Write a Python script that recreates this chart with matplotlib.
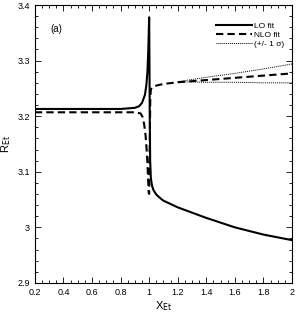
import matplotlib
matplotlib.use("Agg")
import matplotlib.pyplot as plt
from matplotlib.ticker import MultipleLocator, FixedLocator

# ==========================================================
# DATA
# ==========================================================

lo_x = [0.2, 0.4, 0.6, 0.8, 0.85, 0.9, 0.93, 0.95, 0.97, 0.98,
        0.988, 0.994, 0.998, 1.0, 1.002, 1.004, 1.007, 1.012, 1.02,
        1.03, 1.05, 1.08, 1.1, 1.2, 1.4, 1.6, 1.8, 2.0]
lo_y = [3.213, 3.213, 3.213, 3.213, 3.214, 3.215, 3.218, 3.224, 3.238, 3.255,
        3.28, 3.32, 3.36, 3.378, 3.30, 3.20, 3.12, 3.088, 3.075,
        3.067, 3.059, 3.052, 3.048, 3.036, 3.017, 3.0, 2.987, 2.977]

nlo_x = [0.2, 0.6, 0.9, 0.94, 0.955, 0.965, 0.975, 0.985, 0.992, 0.997,
         1.0, 1.004, 1.008, 1.012, 1.02, 1.05, 1.1, 1.2, 1.4, 1.6, 1.8, 2.0]
nlo_y = [3.207, 3.207, 3.207, 3.205, 3.198, 3.185, 3.165, 3.13, 3.09, 3.062,
         3.06, 3.15, 3.235, 3.248, 3.252, 3.255, 3.258, 3.261, 3.265, 3.269, 3.273, 3.277]

up_x = [1.2, 1.4, 1.6, 1.8, 2.0]
up_y = [3.262, 3.270, 3.277, 3.285, 3.294]

low_x = [1.2, 1.4, 1.6, 1.8, 2.0]
low_y = [3.262, 3.261, 3.261, 3.260, 3.260]

x_ticks = [0.2, 0.4, 0.6, 0.8, 1.0, 1.2, 1.4, 1.6, 1.8, 2.0]
x_labels = ["0.2", "0.4", "0.6", "0.8", "1", "1.2", "1.4", "1.6", "1.8", "2"]
y_ticks = [2.9, 3.0, 3.1, 3.2, 3.3, 3.4]
y_labels = ["2.9", "3", "3.1", "3.2", "3.3", "3.4"]

# ==========================================================
# FIGURE
# ==========================================================

plt.rcParams["font.family"] = ["Liberation Sans", "DejaVu Sans"]

fig = plt.figure(figsize=(2.98, 3.13), dpi=100)
ax = fig.add_axes([0.117, 0.096, 0.863, 0.888])

ax.plot(lo_x, lo_y, color="black", lw=1.5, label="LO fit")
ax.plot(nlo_x, nlo_y, color="black", lw=1.5, ls=(0, (3.5, 2)), label="NLO fit")
ax.plot(up_x, up_y, color="black", lw=0.7, ls=(0, (1, 1)), label="(+/- 1 σ)")
ax.plot(low_x, low_y, color="black", lw=0.7, ls=(0, (1, 1)))

ax.set_xlim(0.2, 2.0)
ax.set_ylim(2.9, 3.4)

ax.xaxis.set_major_locator(FixedLocator(x_ticks))
ax.set_xticklabels(x_labels)
ax.yaxis.set_major_locator(FixedLocator(y_ticks))
ax.set_yticklabels(y_labels)
ax.xaxis.set_minor_locator(MultipleLocator(0.05))
ax.yaxis.set_minor_locator(MultipleLocator(0.02))

ax.tick_params(which="both", direction="in", top=True, right=True,
               labelsize=6.5, width=0.6)
ax.tick_params(which="major", length=4)
ax.tick_params(which="minor", length=2)
for s in ax.spines.values():
    s.set_linewidth(0.8)

ax.set_xlabel("X$_{\\rm Et}$", fontsize=8, labelpad=2)
ax.set_ylabel("R$_{\\rm Et}$", fontsize=8, labelpad=3)

ax.text(0.31, 3.356, "(a)", fontsize=7, va="center")

ax.legend(loc="upper right", frameon=False, fontsize=6,
          handlelength=4.3, handletextpad=0.3, labelspacing=0.12,
          bbox_to_anchor=(1.0, 0.965))

fig.savefig("out.png", dpi=100)
